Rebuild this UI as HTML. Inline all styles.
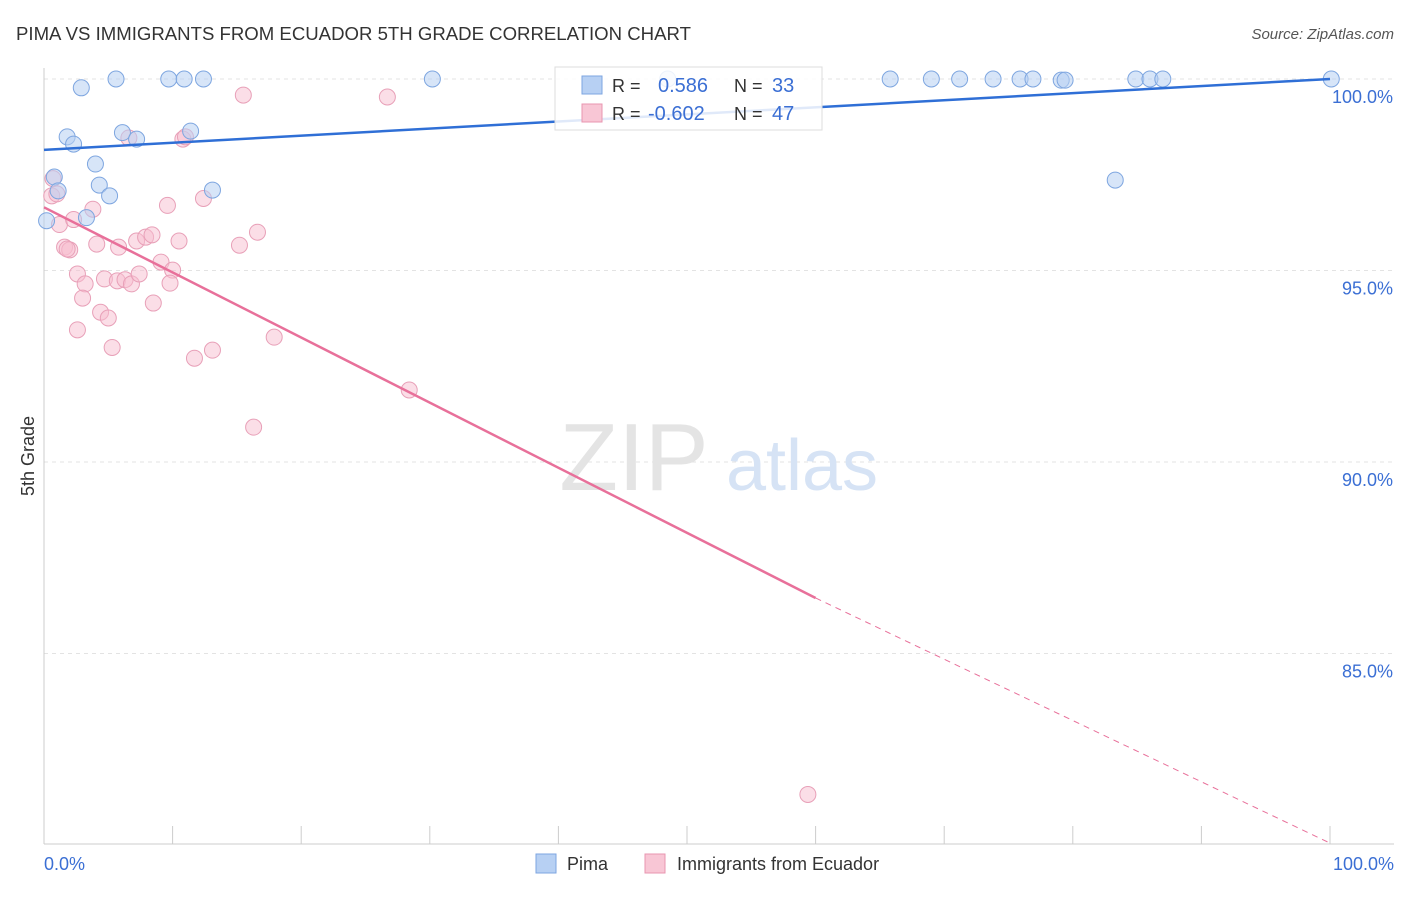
<!DOCTYPE html>
<html><head><meta charset="utf-8"><style>
body{margin:0;background:#fff;font-family:"Liberation Sans",sans-serif}
svg text{font-family:"Liberation Sans",sans-serif}
</style></head><body>
<svg width="1406" height="892" viewBox="0 0 1406 892">
<text x="16" y="40" font-size="18.6" fill="#333">PIMA VS IMMIGRANTS FROM ECUADOR 5TH GRADE CORRELATION CHART</text>
<text x="1394" y="39" font-size="15" fill="#555" text-anchor="end" font-style="italic">Source: ZipAtlas.com</text>
<g id="grid"></g>
<line x1="44" y1="68" x2="44" y2="844" stroke="#ccc"/>
<line x1="44" y1="844" x2="1394" y2="844" stroke="#ccc"/>
<g id="xticks"></g>
<g id="yticks"></g>
<text x="34" y="456" font-size="18" fill="#333" transform="rotate(-90 34 456)" text-anchor="middle">5th Grade</text>
<text x="44" y="870" font-size="18" fill="#3b6fd4">0.0%</text>
<text x="1394" y="870" font-size="18" fill="#3b6fd4" text-anchor="end">100.0%</text>
<g><text x="634" y="490" font-size="96" fill="#e4e4e4" font-family="Liberation Serif" text-anchor="middle">ZIP</text><text x="802" y="490" font-size="72" fill="#d6e3f5" text-anchor="middle">atlas</text></g>
<g id="pts"></g>
<g id="trends"></g>
<g>
<rect x="555" y="67" width="267" height="63" fill="rgba(255,255,255,0.85)" stroke="#ddd"/>
<rect x="582" y="76" width="20" height="18" fill="#b7d0f3" stroke="#7ea6e0"/>
<text x="612" y="92" font-size="18" fill="#333">R = </text><text x="658" y="92" font-size="20" fill="#3b6fd4">0.586</text>
<text x="734" y="92" font-size="18" fill="#333">N = </text><text x="772" y="92" font-size="20" fill="#3b6fd4">33</text>
<rect x="582" y="104" width="20" height="18" fill="#f8c6d5" stroke="#e896b0"/>
<text x="612" y="120" font-size="18" fill="#333">R = </text><text x="648" y="120" font-size="20" fill="#3b6fd4">-0.602</text>
<text x="734" y="120" font-size="18" fill="#333">N = </text><text x="772" y="120" font-size="20" fill="#3b6fd4">47</text>
</g>
<g>
<rect x="536" y="854" width="20" height="19" fill="#b7d0f3" stroke="#7ea6e0"/>
<text x="567" y="870" font-size="18" fill="#333">Pima</text>
<rect x="645" y="854" width="20" height="19" fill="#f8c6d5" stroke="#e896b0"/>
<text x="677" y="870" font-size="18" fill="#333">Immigrants from Ecuador</text>
</g>
</svg>
<script>
const yTicks=[100,95,90,85];
const xTickCount=10;
const pimaX=[5.6,9.7,10.9,12.4,30.2,2.9,1.8,2.3,6.1,7.2,11.4,4.0,4.3,5.1,13.1,0.8,1.1,0.2,3.3,65.8,69.0,71.2,73.8,75.9,76.9,79.1,79.4,84.9,86.0,87.0,100.1,83.3,48.5];
const pimaY=[100,100,100,100,100,99.77,98.49,98.3,98.6,98.43,98.64,97.78,97.23,96.95,97.1,97.44,97.08,96.3,96.38,100,100,100,100,100,100,99.97,99.97,100,100,100,100,97.36,100];
const ecX=[15.5,26.7,10.8,11.0,6.6,0.7,0.6,1.0,1.2,3.8,2.3,9.6,12.4,16.6,1.6,2.0,1.8,4.1,5.8,7.2,7.9,8.4,10.5,15.2,2.6,3.2,3.0,4.7,5.7,6.3,6.8,7.4,9.1,10.0,9.8,8.5,4.4,5.0,2.6,5.3,11.7,13.1,17.9,28.4,16.3,59.4];
const ecY=[99.58,99.53,98.43,98.49,98.46,97.4,96.95,97.0,96.2,96.6,96.33,96.7,96.88,96.0,95.61,95.54,95.56,95.69,95.61,95.77,95.87,95.93,95.77,95.66,94.91,94.65,94.28,94.78,94.73,94.76,94.65,94.91,95.22,95.01,94.67,94.15,93.91,93.76,93.45,92.99,92.71,92.92,93.26,91.88,90.91,81.32];
const pimaTrend=[98.15,100.0];
const ecTrend=[96.65,86.45,80.05];
const NS='http://www.w3.org/2000/svg';
const X=v=>44+v*12.86, Y=v=>79+(100-v)*38.3;
function mk(t,a,p){const e=document.createElementNS(NS,t);for(const k in a)e.setAttribute(k,a[k]);p.appendChild(e);return e;}
const grid=document.getElementById('grid'),yt=document.getElementById('yticks'),xt=document.getElementById('xticks');
yTicks.forEach(v=>{
const l=mk('line',{x1:44,x2:1394,y1:Y(v),y2:Y(v),stroke:'#e3e3e3','stroke-dasharray':'4,4'},grid);


const t=mk('text',{x:1393,y:Y(v)+24,'font-size':18,fill:'#3b6fd4','text-anchor':'end'},yt);t.textContent=v.toFixed(1)+'%';


});
for(let i=0;i<=xTickCount;i++){const l=mk('line',{x1:X(i*10),x2:X(i*10),y1:826,y2:844,stroke:'#ccc'},xt);

}
const pts=document.getElementById('pts');
ecX.forEach((x,i)=>{const c=mk('circle',{cx:X(x),cy:Y(ecY[i]),r:8,fill:'rgba(248,190,208,0.5)',stroke:'#e8a0b8','stroke-width':1},pts);

});
pimaX.forEach((x,i)=>{const c=mk('circle',{cx:X(x),cy:Y(pimaY[i]),r:8,fill:'rgba(183,208,243,0.55)',stroke:'#7ea6e0','stroke-width':1},pts);

});
const tr=document.getElementById('trends');
let l=mk('line',{x1:X(0),y1:Y(pimaTrend[0]),x2:X(100),y2:Y(pimaTrend[1]),stroke:'#2f6fd6','stroke-width':2.5},tr);


l=mk('line',{x1:X(0),y1:Y(ecTrend[0]),x2:X(60),y2:Y(ecTrend[1]),stroke:'#e8709a','stroke-width':2.5},tr);


l=mk('line',{x1:X(60),y1:Y(ecTrend[1]),x2:X(100),y2:Y(ecTrend[2]),stroke:'#e8709a','stroke-width':1,'stroke-dasharray':'6,5'},tr);


</script>
</body></html>
